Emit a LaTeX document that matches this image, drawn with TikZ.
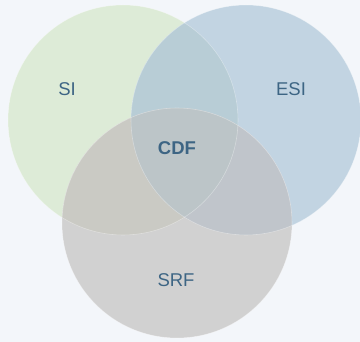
\documentclass[tikz,border=0pt]{standalone}
\usepackage{fontspec}
\setmainfont{Liberation Sans}
\definecolor{bgc}{HTML}{F3F6FA}
\definecolor{siC}{HTML}{DDEBD7}
\definecolor{esiC}{HTML}{C2D4E2}
\definecolor{srfC}{HTML}{D1D1D1}
\definecolor{siesi}{HTML}{B8CDD6}
\definecolor{sisrf}{HTML}{CACAC4}
\definecolor{esisrf}{HTML}{C0C5CB}
\definecolor{allC}{HTML}{BCC5C8}
\definecolor{txt}{HTML}{3D6584}
\begin{document}
\begin{tikzpicture}[x=1pt,y=-1pt,
  lbl/.style={text=txt,font=\fontsize{18.5}{20}\selectfont,inner sep=0pt},
  edge/.style={draw=white,draw opacity=0.35,line width=0.6pt}]
\fill[bgc] (0,0) rectangle (360,342);
\useasboundingbox (0,0) rectangle (360,342);
\def\rr{115}
\coordinate (cSI) at (123,120);
\coordinate (cESI) at (246,120);
\coordinate (cSRF) at (177,223);
\fill[siC] (cSI) circle (\rr);
\fill[esiC] (cESI) circle (\rr);
\fill[srfC] (cSRF) circle (\rr);
\begin{scope}
  \clip (cSI) circle (\rr);
  \fill[siesi] (cESI) circle (\rr);
  \fill[sisrf] (cSRF) circle (\rr);
\end{scope}
\begin{scope}
  \clip (cESI) circle (\rr);
  \fill[esisrf] (cSRF) circle (\rr);
\end{scope}
\begin{scope}
  \clip (cSI) circle (\rr);
  \clip (cESI) circle (\rr);
  \fill[allC] (cSRF) circle (\rr);
\end{scope}
\draw[edge] (cSI) circle (\rr);
\draw[edge] (cESI) circle (\rr);
\draw[edge] (cSRF) circle (\rr);
\node[lbl] (si) at (67,89) {SI};
\node[lbl] (esi) at (291,89) {ESI};
\node[lbl,font=\fontsize{18.5}{20}\selectfont\bfseries] (cdf) at (177,148) {CDF};
\node[lbl] (srf) at (176,280) {SRF};
\end{tikzpicture}
\end{document}
